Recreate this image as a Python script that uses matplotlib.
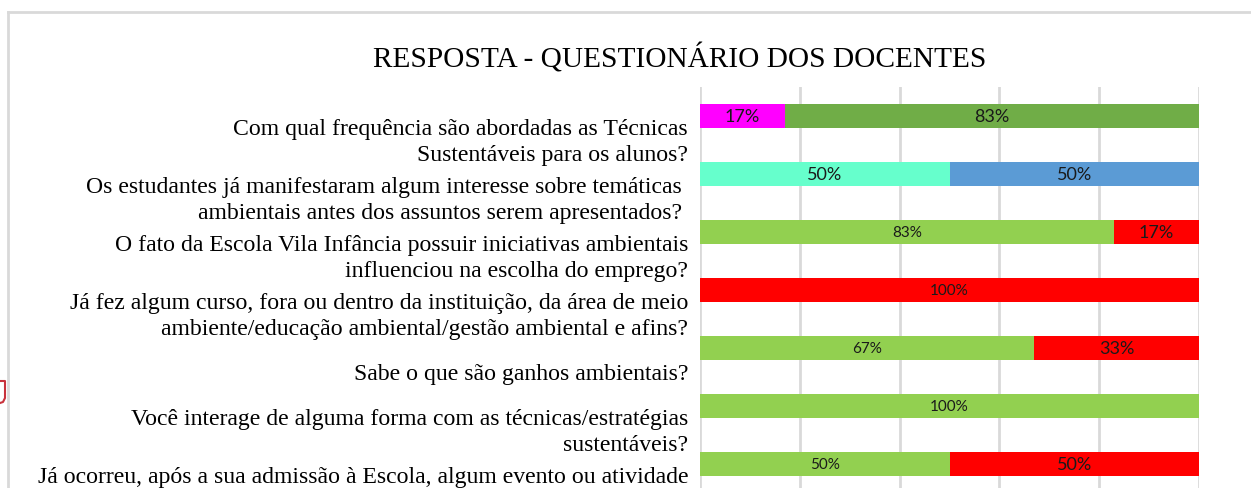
import matplotlib
matplotlib.use("Agg")
import matplotlib.pyplot as plt
from matplotlib.lines import Line2D

# ---------------- data ----------------
title = "RESPOSTA - QUESTIONÁRIO DOS DOCENTES"
questions = [
    "Com qual frequência são abordadas as Técnicas\nSustentáveis para os alunos?",
    "Os estudantes já manifestaram algum interesse sobre temáticas \nambientais antes dos assuntos serem apresentados? ",
    "O fato da Escola Vila Infância possuir iniciativas ambientais\ninfluenciou na escolha do emprego?",
    "Já fez algum curso, fora ou dentro da instituição, da área de meio\nambiente/educação ambiental/gestão ambiental e afins?",
    "Sabe o que são ganhos ambientais?",
    "Você interage de alguma forma com as técnicas/estratégias\nsustentáveis?",
    "Já ocorreu, após a sua admissão à Escola, algum evento ou atividade\n",
]
first_pct = [17, 50, 83, 100, 67, 100, 50]
second_pct = [83, 50, 17, 0, 33, 0, 50]

# ---------------- style ----------------
first_colors = ["#FF00FF", "#66FFCC", "#92D050", "#FF0000", "#92D050", "#92D050", "#92D050"]
second_colors = ["#70AD47", "#5B9BD5", "#FF0000", "#FF0000", "#FF0000", "#FF0000", "#FF0000"]
first_fs = [13, 13, 11, 11, 11, 11, 11]
second_fs = [13, 13, 13, 13, 13, 13, 13]

W, H = 1251, 489
fig = plt.figure(figsize=(W / 100, H / 100), dpi=100)
fig.patch.set_facecolor("white")

ax_left, ax_right = 700 / W, 1199 / W
ax_top, ax_bot = 1 - 88 / H, 1 - 494 / H
ax = fig.add_axes([ax_left, ax_bot, ax_right - ax_left, ax_top - ax_bot])

n = len(questions)
pos = list(range(n))
ax.barh(pos, first_pct, height=0.4, color=first_colors, zorder=3)
ax.barh(pos, second_pct, left=first_pct, height=0.4, color=second_colors, zorder=3)

label_font = ["Lato", "DejaVu Sans"]
for i in range(n):
    if first_pct[i] > 0:
        ax.text(first_pct[i] / 2, pos[i], f"{first_pct[i]}%", ha="center", va="center",
                fontsize=first_fs[i], color="#1A1A1A", family=label_font, zorder=4)
    if second_pct[i] > 0:
        ax.text(first_pct[i] + second_pct[i] / 2, pos[i], f"{second_pct[i]}%", ha="center",
                va="center", fontsize=second_fs[i], color="#1A1A1A", family=label_font, zorder=4)

ax.set_xlim(0, 100)
ax.set_ylim(n - 0.5, -0.5)
ax.set_xticks([0, 20, 40, 60, 80, 100])
ax.xaxis.grid(True, color="#D9D9D9", linewidth=2, zorder=0)
ax.tick_params(axis="x", length=0, labelbottom=False)
ax.set_yticks([p + 0.44 for p in pos])
ax.set_yticklabels(questions, fontsize=17.1, family="Liberation Serif", color="black",
                   ha="right", va="center", linespacing=1.34)
ax.tick_params(axis="y", length=0, pad=8.6)
for s in ax.spines.values():
    s.set_visible(False)

fig.text(680 / W, 1 - 58 / H, title, ha="center", va="center", fontsize=21.2,
         family="Liberation Serif", color="black")

# outer chart frame (cropped)
fig.add_artist(Line2D([7.5 / W, 1.0], [1 - 13 / H, 1 - 13 / H], color="#D9D9D9", lw=2,
                      transform=fig.transFigure))
fig.add_artist(Line2D([7.5 / W, 7.5 / W], [0, 1 - 13 / H], color="#D9D9D9", lw=2,
                      transform=fig.transFigure))

# small red fragment of the surrounding page at the left edge
fig.add_artist(Line2D([0, 5 / W, 5 / W, 3 / W, 0],
                      [1 - 382 / H, 1 - 382 / H, 1 - 399 / H, 1 - 403 / H, 1 - 404 / H],
                      color="#C8323C", lw=1.5, transform=fig.transFigure))

fig.savefig("out.png", dpi=100, facecolor="white")
